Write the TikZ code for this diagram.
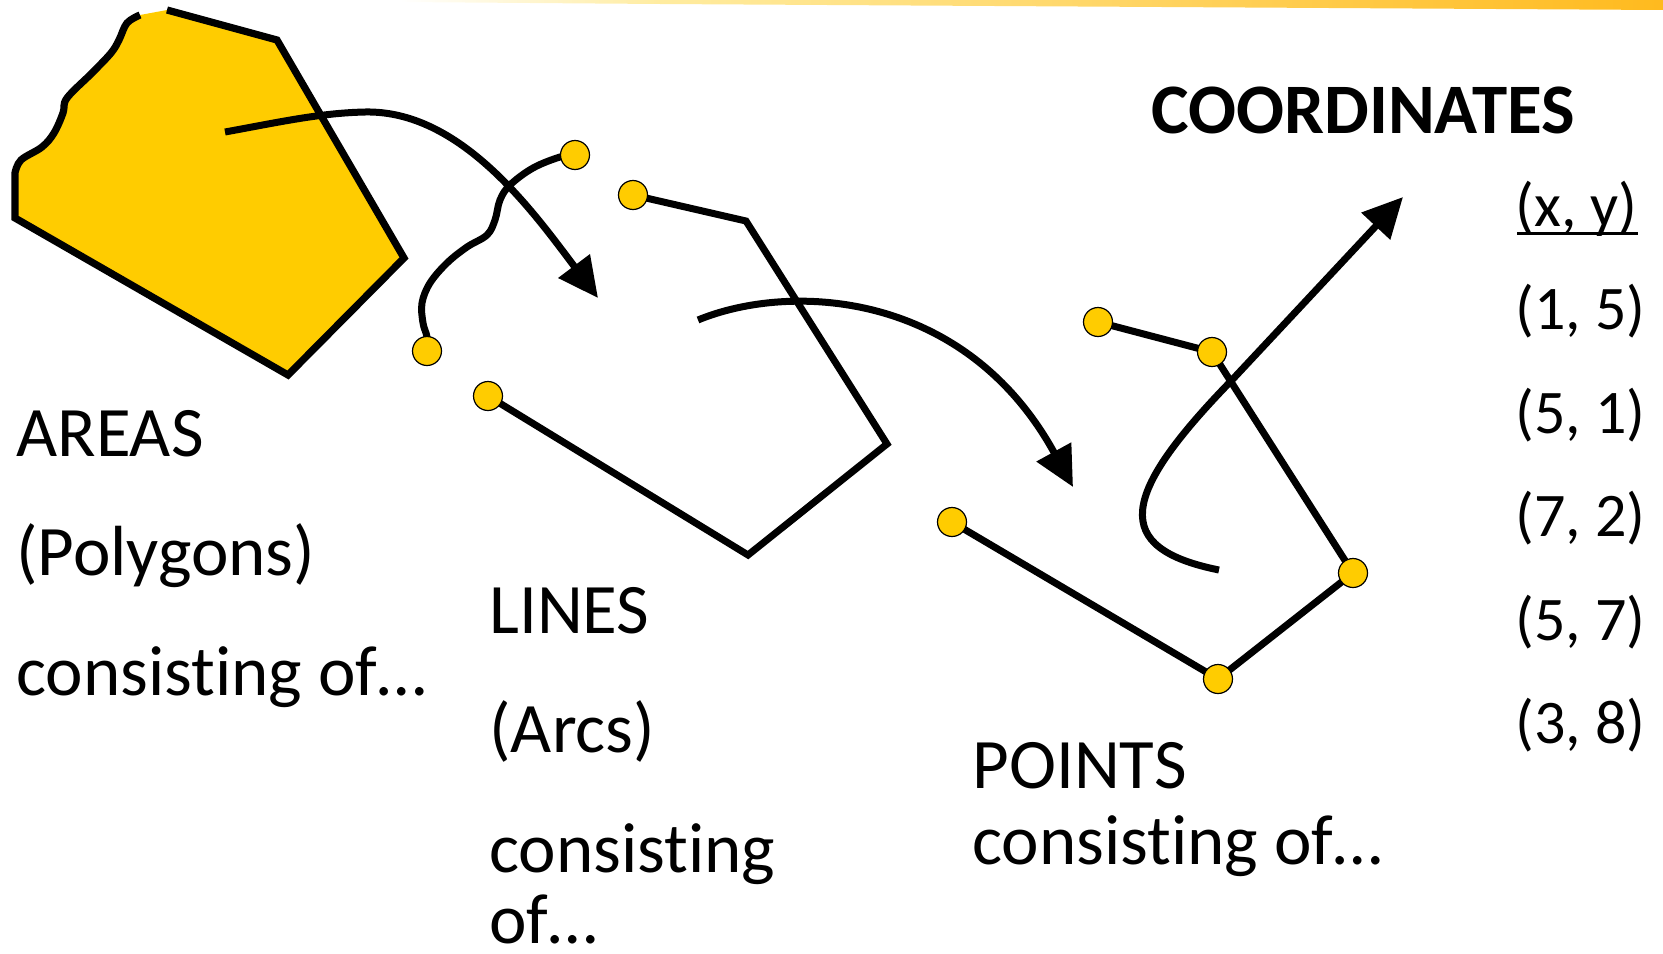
\documentclass[tikz,border=0pt]{standalone}
\usepackage{fontspec}
\setmainfont{Carlito}[Ligatures=NoCommon]
\usetikzlibrary{arrows.meta,calc}
\definecolor{gold}{RGB}{255,204,0}
\definecolor{bandL}{RGB}{255,236,160}
\definecolor{bandR}{RGB}{255,186,30}
\begin{document}
\begin{tikzpicture}[x=0.5pt,y=-0.5pt]
\tikzset{
  stroke/.style={line width=3.5pt, black},
  arrowline/.style={line width=3.5pt, black, -{Triangle[length=20pt,width=19pt]}},
  dot/.style={circle, fill=gold, draw=black, line width=0.6pt, minimum size=14.5pt, inner sep=0pt},
  lbl/.style={anchor=base west, inner sep=0pt, font=\fontsize{35.5pt}{42pt}\selectfont},
  crd/.style={anchor=base west, inner sep=0pt, font=\fontsize{31pt}{37pt}\selectfont},
}
\useasboundingbox (0,0) rectangle (1663,953);

% top decoration band
\shade[left color=white, right color=bandL] (400,0) -- (660,0) -- (660,4) -- (400,2) -- cycle;
\shade[left color=bandL, right color=bandR] (660,0) -- (1663,0) -- (1663,10) -- (660,4) -- cycle;

% polygon (area)
\fill[gold] (167,10) -- (277,40) -- (404,258) -- (288,375) -- (15,218) -- (15,173)
  -- plot[smooth, tension=0.6] coordinates {(15,173) (21,160) (42,147) (54,133) (63,113) (67,98) (92,73) (111,53) (119,40) (127,23) (140,15)} -- cycle;
\draw[stroke, line width=3.6pt] (167,10) -- (277,40) -- (404,258) -- (288,375) -- (15,218) -- (15,173)
  -- plot[smooth, tension=0.6] coordinates {(15,173) (21,160) (42,147) (54,133) (63,113) (67,98) (92,73) (111,53) (119,40) (127,23) (140,15)};

% named positions
\coordinate (w1) at (575,155);
\coordinate (w2) at (427,351);
\coordinate (l1) at (633,195);
\coordinate (l2) at (488,396);
\coordinate (c1) at (746,221);
\coordinate (c2) at (887,444);
\coordinate (c3) at (748,555);
\coordinate (p1) at (1098,322);
\coordinate (p2) at (1212,352);
\coordinate (p3) at (1353,573);
\coordinate (p4) at (1218,679);
\coordinate (p5) at (952,522);
\coordinate (a1s) at (225,132);
\coordinate (a1m) at (365,112);
\coordinate (a1e) at (598,298);
\coordinate (a2s) at (698,320);
\coordinate (a2e) at (1073,487);
\coordinate (a3s) at (1219,570);
\coordinate (a3m) at (1232,380);
\coordinate (a3e) at (1403,197);

% arrow 1
\draw[arrowline] (a1s) .. controls (280,122) and (320,113) .. (a1m)
  .. controls (460,110) and (532,210) .. (a1e);

% wavy line
\draw[stroke] plot[smooth, tension=0.6] coordinates {(w1) (560,157) (533,168) (510,185) (500,200) (495,220) (487,235) (467,247) (447,263) (430,283) (422,303) (423,323) (427,337) (w2)};

% line 2
\draw[stroke] (l1) -- (c1) -- (c2) -- (c3) -- (l2);

% arrow 2
\draw[arrowline] (a2s) .. controls (790,282) and (965,290) .. (a2e);

% line 3
\draw[stroke] (p1) -- (p2) -- (p3) -- (p4) -- (p5);

% arrow 3
\draw[arrowline] (a3s) .. controls (1110,548) and (1120,495) .. (a3m) -- (a3e);

% vertices
\node[dot] (dw1) at (w1) {};
\node[dot] (dw2) at (w2) {};
\node[dot] (dl1) at (l1) {};
\node[dot] (dl2) at (l2) {};
\node[dot] (dp1) at (p1) {};
\node[dot] (dp2) at (p2) {};
\node[dot] (dp3) at (p3) {};
\node[dot] (dp4) at (p4) {};
\node[dot] (dp5) at (p5) {};

% labels
\node[lbl] (areas) at (16,456) {AREAS};
\node[lbl] (polyg) at (16,575) {(Polygons)};
\node[lbl] (consA) at (16,695) {consisting of…};

\node[lbl] (lines) at (489,633) {LINES};
\node[lbl] (arcs) at (489,752) {(Arcs)};
\node[lbl] (consL) at (489,872) {consisting};
\node[lbl] (ofL) at (489,943) {of…};

\node[lbl] (points) at (972,788) {POINTS};
\node[lbl] (consP) at (972,864) {consisting of…};

\node[lbl, font=\fontsize{35.5pt}{42pt}\selectfont\bfseries] (coordt) at (1151,133) {COORDINATES};
\node[crd] (xy) at (1515,226) {(x, y)};
\draw[line width=1.5pt] ($(xy.base west)+(2,7)$) -- ($(xy.base east)+(0,7)$);
\node[crd] (r1) at (1515,329) {(1, 5)};
\node[crd] (r2) at (1515,433) {(5, 1)};
\node[crd] (r3) at (1515,536) {(7, 2)};
\node[crd] (r4) at (1515,640) {(5, 7)};
\node[crd] (r5) at (1515,743) {(3, 8)};
\end{tikzpicture}
\end{document}
